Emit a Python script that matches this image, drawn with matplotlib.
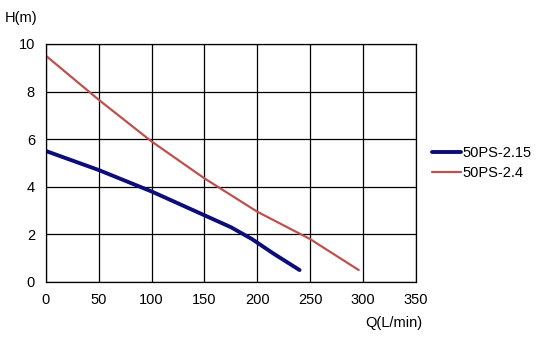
import numpy as np
import matplotlib
matplotlib.use("Agg")
import matplotlib.pyplot as plt

plt.rcParams['font.family'] = ['Liberation Sans', 'DejaVu Sans']

# pump curves
q_215 = [0, 50, 100, 150, 175, 195, 215, 240]
h_215 = [5.5, 4.7, 3.8, 2.8, 2.3, 1.8, 1.2, 0.5]

q_24 = [0, 50, 100, 150, 200, 250, 296]
h_24 = [9.5, 7.65, 5.9, 4.35, 2.95, 1.8, 0.5]

xticks = [0, 50, 100, 150, 200, 250, 300, 350]
yticks = [0, 2, 4, 6, 8, 10]

fig = plt.figure(figsize=(5.43, 3.43), dpi=100)
ax = fig.add_axes([0.0847, 0.178, 0.681, 0.694])

ax.plot(q_215, h_215, color='#0c0c7a', lw=2.8, label='50PS-2.15', solid_capstyle='round')
ax.plot(q_24, h_24, color='#c0504d', lw=1.6, label='50PS-2.4', solid_capstyle='round')

ax.set_xlim(0, 350)
ax.set_ylim(0, 10)
ax.set_xticks(xticks)
ax.set_yticks(yticks)
ax.grid(True, color='black', lw=0.9)
ax.tick_params(length=0, labelsize=10.5, pad=8)
for s in ax.spines.values():
    s.set_color('black')
    s.set_linewidth(0.9)

fig.text(0.009, 0.947, 'H(m)', fontsize=10.5, ha='left', va='center')
fig.text(0.777, 0.058, 'Q(L/min)', fontsize=10.5, ha='right', va='center')

ax.legend(loc='center left', bbox_to_anchor=(1.0, 0.5), frameon=False,
          fontsize=10.5, handlelength=2.0, handletextpad=0.1, borderaxespad=0.7,
          labelspacing=0.45)

fig.savefig('out.png', dpi=100)
